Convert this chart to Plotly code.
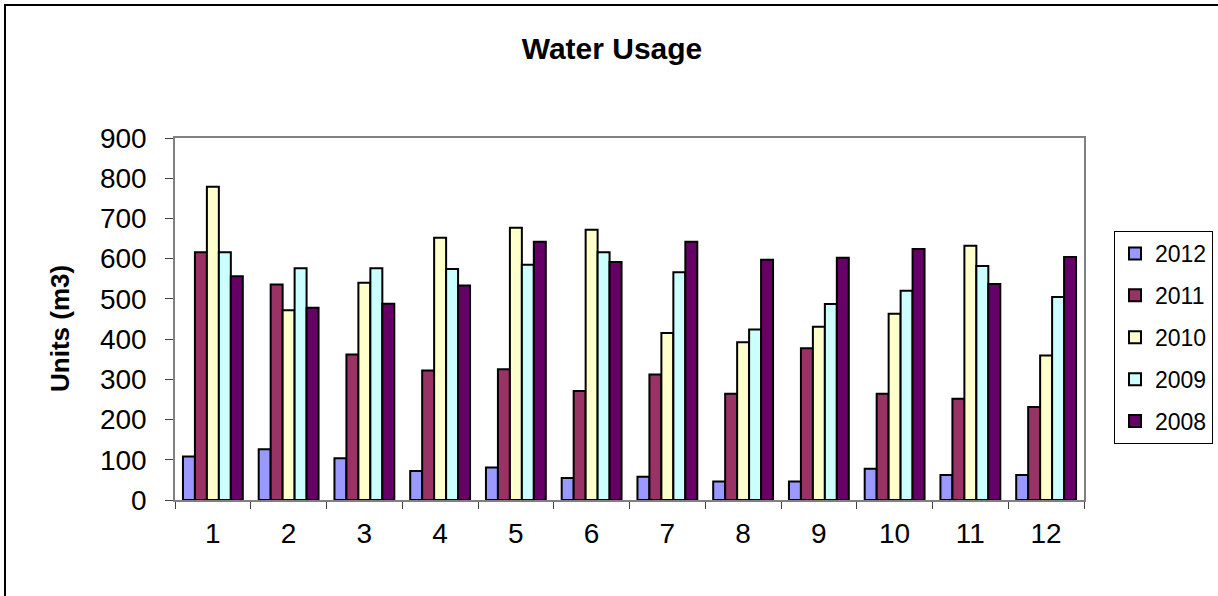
import plotly.graph_objects as go

months = ["1", "2", "3", "4", "5", "6", "7", "8", "9", "10", "11", "12"]
series_names = ["2012", "2011", "2010", "2009", "2008"]
usage_2012 = [108, 126, 104, 72, 81, 55, 58, 46, 46, 78, 62, 62]
usage_2011 = [616, 536, 362, 322, 325, 271, 312, 264, 377, 264, 252, 231]
usage_2010 = [779, 472, 540, 652, 677, 672, 415, 392, 431, 463, 632, 359]
usage_2009 = [616, 576, 576, 574, 585, 616, 566, 424, 487, 520, 582, 505]
usage_2008 = [556, 478, 488, 533, 642, 592, 642, 597, 602, 624, 537, 604]
colors = ["#9999FF", "#993366", "#FFFFCC", "#CCFFFF", "#660066"]
y_ticks = [0, 100, 200, 300, 400, 500, 600, 700, 800, 900]

all_series = [usage_2012, usage_2011, usage_2010, usage_2009, usage_2008]

FONT = "Arial, Liberation Sans, sans-serif"

fig = go.Figure()
for name, vals, col in zip(series_names, all_series, colors):
    fig.add_trace(go.Bar(
        x=months, y=vals, name=name, legendgroup=name,
        marker=dict(color=col, line=dict(color="black", width=2)),
    ))

W, H = 1218, 596
L, R, T, B = 175, 134, 138, 96
pw, ph = W - L - R, H - T - B

def px_x(p):
    return (p - L) / pw

def px_y(p):
    return (H - B - p) / ph

fig.update_layout(
    width=W, height=H,
    margin=dict(l=L, r=R, t=T, b=B, autoexpand=False),
    paper_bgcolor="white", plot_bgcolor="white",
    font=dict(family=FONT, color="black"),
    barmode="group", bargap=0.21, bargroupgap=0,
    title=dict(text="<b>Water Usage</b>", x=612 / W, xref="container", xanchor="center",
               y=1 - 48 / H, yref="container", yanchor="middle",
               font=dict(size=30, family=FONT, color="black")),
    legend=dict(x=px_x(1114), y=px_y(231), xanchor="left", yanchor="top",
                bordercolor="black", borderwidth=1, bgcolor="white",
                font=dict(size=23, family=FONT), tracegroupgap=9,
                itemwidth=30),
    xaxis=dict(showline=True, linecolor="#808080", linewidth=1.5, mirror=True,
               ticks="outside", tickson="boundaries", ticklen=7, tickcolor="#404040",
               tickfont=dict(size=28, family=FONT), showgrid=False,
               ticklabelstandoff=8),
    yaxis=dict(range=[0, 900], tickvals=y_ticks, showline=True, linecolor="#808080",
               linewidth=1.5, mirror=True, ticks="outside", ticklen=8, tickcolor="#404040",
               tickfont=dict(size=28, family=FONT), showgrid=False, zeroline=False,
               ticklabelstandoff=13),
    annotations=[dict(text="<b>Units (m3)</b>", x=px_x(60), y=px_y(329), xref="paper", yref="paper",
                      textangle=-90, showarrow=False, font=dict(size=26, family=FONT),
                      xanchor="center", yanchor="middle")],
    shapes=[dict(type="rect", xref="paper", yref="paper",
                 x0=px_x(5), x1=px_x(1230), y0=px_y(610), y1=px_y(5),
                 line=dict(color="black", width=2), layer="below")],
)

fig.write_html("out.html", config={"displayModeBar": False},
               post_script="document.body.style.margin='0';")
